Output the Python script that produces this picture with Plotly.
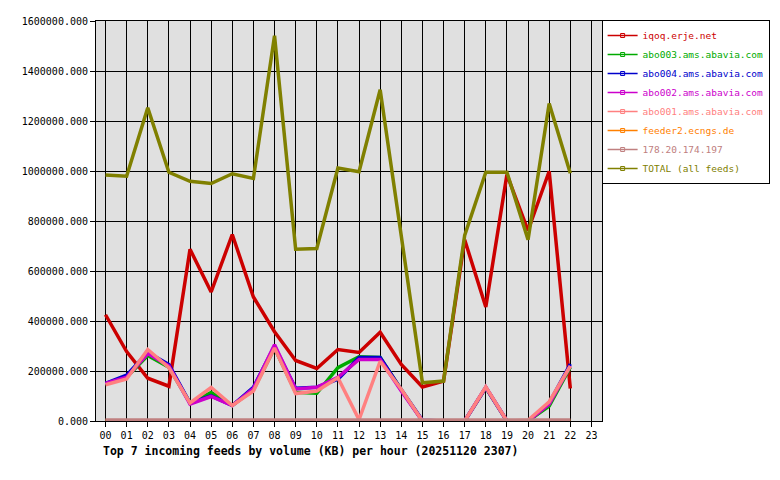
import plotly.graph_objects as go

hours = list(range(23))
hour_labels = ["%02d" % h for h in range(24)]

iqoq = [425000, 278000, 171000, 139000, 687000, 516000, 746000, 496000, 357000, 242000, 210000, 286000,
        274000, 355000, 226000, 136000, 160000, 725000, 456000, 986000, 762000, 999000, 130000]
abo003 = [148000, 175000, 262000, 215000, 72000, 114000, 62000, 125000, 292000, 115000, 111000, 213000,
          257000, 254000, 125000, 0, 0, 0, 133000, 0, 0, 60000, 215000]
abo004 = [150000, 183000, 274000, 226000, 72000, 100000, 62000, 135000, 299000, 131000, 135000, 167000,
          254000, 254000, 125000, 3000, 0, 0, 135000, 0, 0, 72000, 228000]
abo002 = [150000, 175000, 270000, 220000, 68000, 98000, 62000, 130000, 305000, 128000, 135000, 175000,
          246000, 246000, 120000, 0, 0, 0, 135000, 0, 0, 68000, 220000]
abo001 = [145000, 168000, 286000, 213000, 72000, 134000, 62000, 120000, 292000, 110000, 120000, 173000,
          5000, 239000, 127000, 0, 0, 0, 137000, 0, 3000, 77000, 220000]
feeder2 = [500, 500, 500, 500, 500, 500, 500, 500, 500, 500, 500, 500,
           500, 500, 500, 500, 500, 500, 500, 1000, 3000, 500, 500]
ip178 = [4000, 4000, 4000, 1500, 4000, 4000, 4000, 4000, 1500, 1500, 1500, 1500,
         4000, 4000, 4000, 4000, 4000, 4000, 4000, 4000, 4000, 4000, 4000]
total = [984000, 979000, 1253000, 995000, 959000, 950000, 989000, 970000, 1541000, 687000, 690000, 1012000,
         997000, 1325000, 740000, 153000, 160000, 742000, 995000, 995000, 725000, 1270000, 991000]

series = [
    ("iqoq.erje.net", iqoq, "#cc0000"),
    ("abo003.ams.abavia.com", abo003, "#00aa00"),
    ("abo004.ams.abavia.com", abo004, "#0000cc"),
    ("abo002.ams.abavia.com", abo002, "#cc00cc"),
    ("abo001.ams.abavia.com", abo001, "#ff8080"),
    ("feeder2.ecngs.de", feeder2, "#ff8000"),
    ("178.20.174.197", ip178, "#c08080"),
    ("TOTAL (all feeds)", total, "#808000"),
]

fig = go.Figure()
for name, vals, col in series:
    fig.add_trace(go.Scatter(x=hours, y=vals, mode='lines', showlegend=False,
                             line=dict(color=col, width=3.5)))
# legend-only entries with the little marker
for name, vals, col in series:
    fig.add_trace(go.Scatter(x=[None], y=[None], mode='lines+markers',
                             name="<span style='color:%s'>%s</span>" % (col, name),
                             line=dict(color=col, width=1.5),
                             marker=dict(symbol='square-open', size=4, color=col)))

fig.add_annotation(text="<b>Top 7 incoming feeds by volume (KB) per hour (20251120 2307)</b>",
                   xref='paper', yref='paper', x=0.0074, y=-0.076, xanchor='left', yanchor='middle',
                   showarrow=False, font=dict(size=11.5, color='black'))

# page body has an 8px margin, so the figure is a bit smaller;
# the x axis domain is shortened so the legend sits inside the paper area
fig.update_layout(
    width=772, height=464,
    margin=dict(l=88, r=7, t=11, b=51),
    paper_bgcolor='white',
    plot_bgcolor='#e0e0e0',
    font=dict(family="DejaVu Sans Mono", size=10, color='black'),
    showlegend=True,
    legend=dict(x=0.995, y=1.0025, xanchor='right', yanchor='top',
                bgcolor='white', bordercolor='black', borderwidth=1, font=dict(size=9.5), itemwidth=30,
                tracegroupgap=0),
    xaxis=dict(domain=[0, 506 / 677], range=[-0.45, 23.5], tickmode='array', tickvals=list(range(24)),
               ticktext=hour_labels, showgrid=True, gridcolor='black', gridwidth=1, showline=True,
               linecolor='black', linewidth=1, mirror=True, ticks='outside', ticklen=5, tickcolor='black',
               zeroline=False),
    yaxis=dict(range=[0, 1600000], dtick=200000, tickformat='.3f', showgrid=True, gridcolor='black',
               gridwidth=1, showline=True, linecolor='black', linewidth=1, mirror=True,
               ticks='outside', ticklen=5, tickcolor='black', zeroline=False),
)

fig.write_html("out.html")
